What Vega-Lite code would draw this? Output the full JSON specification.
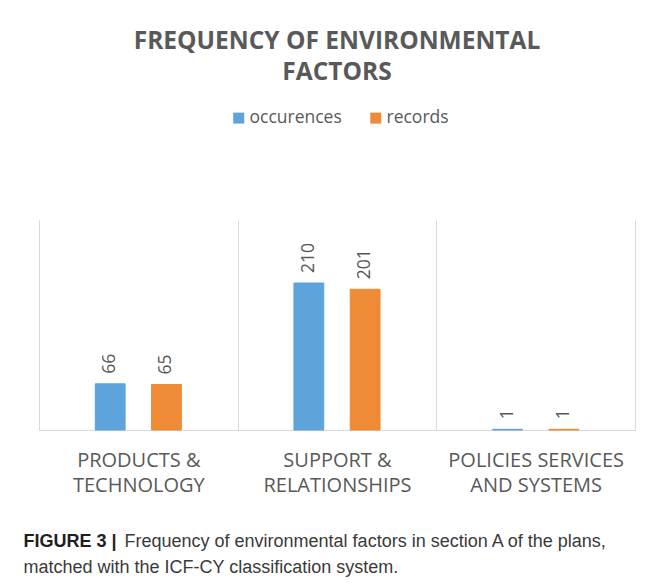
{
  "$schema": "https://vega.github.io/schema/vega-lite/v6.json",
  "width": 596,
  "height": 210,
  "autosize": {"type": "none"},
  "padding": {"left": 39, "top": 220, "right": 17, "bottom": 156},
  "background": "white",
  "title": {
    "text": ["FREQUENCY OF ENVIRONMENTAL", "FACTORS"],
    "orient": "top",
    "anchor": "middle",
    "frame": "group",
    "font": "Open Sans",
    "fontSize": 24.5,
    "fontWeight": "bold",
    "color": "#595959",
    "lineHeight": 31,
    "offset": 24
  },
  "data": {
    "values": [
      {"category": "PRODUCTS & TECHNOLOGY", "series": "occurences", "value": 66},
      {"category": "PRODUCTS & TECHNOLOGY", "series": "records", "value": 65},
      {"category": "SUPPORT & RELATIONSHIPS", "series": "occurences", "value": 210},
      {"category": "SUPPORT & RELATIONSHIPS", "series": "records", "value": 201},
      {"category": "POLICIES SERVICES AND SYSTEMS", "series": "occurences", "value": 1},
      {"category": "POLICIES SERVICES AND SYSTEMS", "series": "records", "value": 1}
    ]
  },
  "encoding": {
    "x": {
      "field": "category",
      "type": "nominal",
      "sort": null,
      "scale": {"paddingInner": 0, "paddingOuter": 0},
      "axis": {
        "title": "Frequency of environmental factors in section A of the plans,",
        "titleX": 85,
        "titleY": 116,
        "titleAlign": "left",
        "titleAnchor": null,
        "titleBaseline": "alphabetic",
        "titleFont": "Liberation Sans",
        "titleFontSize": 18,
        "titleFontWeight": "normal",
        "titleColor": "#3a3a3a",
        "labelAngle": 0,
        "labelFont": "Open Sans",
        "labelFontSize": 20,
        "labelColor": "#595959",
        "labelBaseline": "top",
        "labelPadding": 20,
        "labelLineHeight": 25,
        "labelExpr": "datum.value == 'PRODUCTS & TECHNOLOGY' ? ['PRODUCTS &', 'TECHNOLOGY'] : datum.value == 'SUPPORT & RELATIONSHIPS' ? ['SUPPORT &', 'RELATIONSHIPS'] : datum.value == 'POLICIES SERVICES AND SYSTEMS' ? ['POLICIES SERVICES', 'AND SYSTEMS'] : ''",
        "ticks": false,
        "tickSize": 0,
        "tickBand": "extent",
        "grid": true,
        "gridColor": "#d9d9d9",
        "gridWidth": 1,
        "domainColor": "#d9d9d9",
        "domainWidth": 1
      }
    },
    "xOffset": {
      "field": "series",
      "type": "nominal",
      "scale": {"domain": ["occurences", "records"], "paddingInner": 0.47, "paddingOuter": 1.185}
    }
  },
  "layer": [
    {
      "mark": {"type": "bar", "strokeWidth": 1},
      "encoding": {
        "y": {
          "field": "value",
          "type": "quantitative",
          "scale": {"domain": [0, 300], "nice": false},
          "axis": {
            "orient": "left",
            "labels": false,
            "ticks": false,
            "domain": false,
            "grid": false,
            "title": "FIGURE 3 |",
            "titleAngle": 0,
            "titleX": -16,
            "titleY": 326,
            "titleAlign": "left",
            "titleAnchor": null,
            "titleBaseline": "alphabetic",
            "titleFont": "Liberation Sans",
            "titleFontSize": 18,
            "titleFontWeight": "bold",
            "titleColor": "#1f1f1f"
          }
        },
        "color": {
          "field": "series",
          "type": "nominal",
          "scale": {"domain": ["occurences", "records"], "range": ["#5DA3DC", "#EF8A36"]},
          "legend": {
            "title": null,
            "orient": "none",
            "legendX": 191,
            "legendY": -111,
            "direction": "horizontal",
            "symbolType": "square",
            "symbolSize": 121,
            "symbolStrokeWidth": 0,
            "labelFont": "Open Sans",
            "labelFontSize": 17.5,
            "labelColor": "#595959",
            "labelOffset": 2,
            "columnPadding": 25,
            "padding": 0
          }
        },
        "stroke": {
          "field": "series",
          "type": "nominal",
          "scale": {"domain": ["occurences", "records"], "range": ["#5DA3DC", "#EF8A36"]},
          "legend": null
        }
      }
    },
    {
      "mark": {
        "type": "text",
        "angle": 270,
        "align": "left",
        "baseline": "middle",
        "dx": 10,
        "font": "Open Sans",
        "fontSize": 17.5,
        "color": "#595959"
      },
      "encoding": {
        "y": {
          "field": "value",
          "type": "quantitative",
          "axis": {
            "orient": "right",
            "labels": false,
            "ticks": false,
            "domain": false,
            "grid": false,
            "title": "matched with the ICF-CY classification system.",
            "titleAngle": 0,
            "titleX": -612,
            "titleY": 352,
            "titleAlign": "left",
            "titleAnchor": null,
            "titleBaseline": "alphabetic",
            "titleFont": "Liberation Sans",
            "titleFontSize": 18,
            "titleFontWeight": "normal",
            "titleColor": "#3a3a3a"
          }
        },
        "text": {"field": "value", "type": "quantitative"}
      }
    }
  ],
  "resolve": {"axis": {"y": "independent"}},
  "config": {
    "view": {"stroke": null}
  }
}
